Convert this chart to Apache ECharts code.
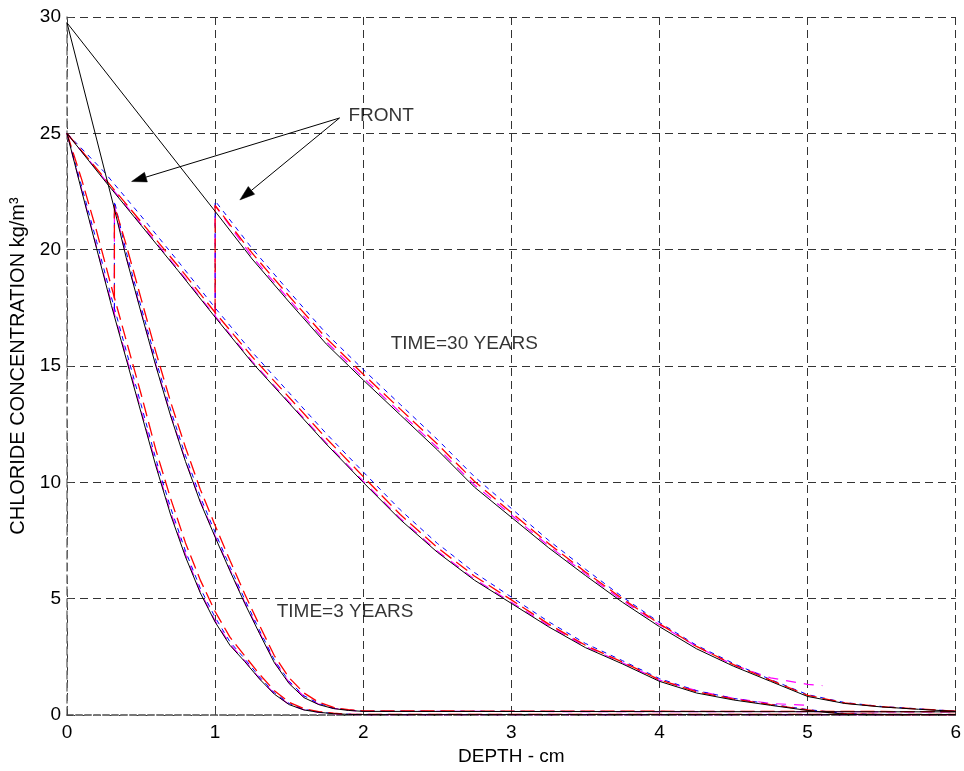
<!DOCTYPE html>
<html><head><meta charset="utf-8">
<script src="https://cdn.jsdelivr.net/npm/echarts@6/dist/echarts.min.js"></script>
<style>html,body{margin:0;padding:0;background:#fff;overflow:hidden}#c{width:964px;height:771px}</style>
</head><body><div id="c"></div>
<script>
// ---------- axis ticks ----------
const xTicks = [0, 1, 2, 3, 4, 5, 6];
const yTicks = [0, 5, 10, 15, 20, 25, 30];

// ---------- TIME = 3 YEARS ----------
// curve without front (starts at 25)
const xA     = [0, 0.1, 0.2, 0.3, 0.4, 0.5, 0.6, 0.7, 0.8, 0.9, 1.0, 1.1, 1.2, 1.3, 1.4, 1.5, 1.6, 1.7, 1.8, 1.9, 2.0, 6.0];
const blackA = [25, 22.5, 20.05, 17.6, 15.3, 13.0, 10.7, 8.6, 6.8, 5.25, 4.0, 3.0, 2.3, 1.55, 0.9, 0.45, 0.22, 0.12, 0.06, 0.03, 0.02, 0.02];
const redA   = [25, 23.0, 20.8, 18.4, 16.1, 13.8, 11.4, 9.3, 7.4, 5.8, 4.45, 3.35, 2.55, 1.75, 1.05, 0.55, 0.28, 0.15, 0.08, 0.04, 0.03, 0.03];
const blueA  = [25, 22.7, 20.35, 17.95, 15.65, 13.35, 11.0, 8.9, 7.05, 5.45, 4.2, 3.15, 2.42, 1.64, 0.96, 0.5, 0.25, 0.13, 0.07, 0.04, 0.03, 0.03];
const magA   = [25, 22.55, 20.1, 17.7, 15.4, 13.1, 10.8, 8.7, 6.9, 5.3, 4.05, 3.05, 2.33, 1.58, 0.92, 0.46, 0.23, 0.12, 0.06, 0.03, 0.02, 0.02];
// black curve with front (starts at 30)
const xBk    = [0, 0.32, 0.4, 0.5, 0.6, 0.7, 0.8, 0.9, 1.0, 1.1, 1.2, 1.3, 1.4, 1.5, 1.6, 1.7, 1.8, 1.9, 2.0, 6.0];
const blackB = [29.75, 21.75, 19.65, 17.3, 15.0, 12.85, 10.9, 9.15, 7.65, 6.2, 4.8, 3.5, 2.25, 1.35, 0.75, 0.45, 0.28, 0.2, 0.16, 0.14];
// numerical curves with front jump at x = 0.32
const xB     = [0.32, 0.32, 0.4, 0.5, 0.6, 0.7, 0.8, 0.9, 1.0, 1.1, 1.2, 1.3, 1.4, 1.5, 1.6, 1.7, 1.8, 1.9, 2.0, 6.0];
const redB   = [17.9, 21.9, 20.2, 17.9, 15.6, 13.45, 11.5, 9.7, 8.15, 6.65, 5.2, 3.85, 2.55, 1.6, 0.95, 0.55, 0.33, 0.23, 0.18, 0.15];
const blueB  = [17.5, 22.1, 19.9, 17.55, 15.25, 13.1, 11.15, 9.38, 7.85, 6.38, 4.97, 3.64, 2.37, 1.45, 0.83, 0.5, 0.3, 0.22, 0.17, 0.15];
const magB   = [17.25, 21.9, 19.7, 17.35, 15.05, 12.9, 10.95, 9.2, 7.7, 6.25, 4.85, 3.55, 2.3, 1.4, 0.8, 0.47, 0.29, 0.21, 0.16, 0.14];

// ---------- TIME = 30 YEARS ----------
const xC     = [0, 0.25, 0.5, 0.75, 1.0, 1.25, 1.5, 1.75, 2.0, 2.25, 2.5, 2.75, 3.0, 3.25, 3.5, 3.75, 4.0, 4.25, 4.5, 4.75, 5.0, 5.25, 5.5, 6.0];
const blackC = [25, 23.0, 21.05, 19.1, 17.1, 15.15, 13.4, 11.65, 10.0, 8.4, 7.0, 5.8, 4.8, 3.8, 2.9, 2.2, 1.45, 0.95, 0.65, 0.42, 0.2, 0.04, 0.01, 0.01];
const redC   = [25, 23.1, 21.2, 19.3, 17.3, 15.4, 13.65, 11.9, 10.25, 8.62, 7.2, 5.98, 4.95, 3.92, 3.0, 2.28, 1.52, 1.0, 0.69, 0.45, 0.22, 0.06, 0.02, 0.02];
const blueC  = [25, 23.35, 21.45, 19.5, 17.5, 15.6, 13.85, 12.1, 10.45, 8.82, 7.38, 6.13, 5.07, 4.02, 3.08, 2.34, 1.57, 1.05, 0.72, 0.47, 0.24, 0.07, 0.03, 0.02];
const xCm    = [0, 0.25, 0.5, 0.75, 1.0, 1.25, 1.5, 1.75, 2.0, 2.25, 2.5, 2.75, 3.0, 3.25, 3.5, 3.75, 4.0, 4.25, 4.5, 4.75, 5.0];
const magC   = [25, 23.05, 21.1, 19.15, 17.15, 15.2, 13.45, 11.7, 10.05, 8.45, 7.05, 5.85, 4.85, 3.85, 2.95, 2.25, 1.5, 1.05, 0.72, 0.5, 0.42];
// black curve with front (starts at 30)
const xDk    = [0, 1.0, 1.25, 1.5, 1.75, 2.0, 2.25, 2.5, 2.75, 3.0, 3.25, 3.5, 3.75, 4.0, 4.25, 4.5, 4.75, 5.0, 5.25, 5.5, 5.75, 6.0];
const blackD = [29.75, 21.65, 19.6, 17.75, 15.95, 14.4, 12.9, 11.4, 9.8, 8.5, 7.2, 6.0, 4.85, 3.8, 2.85, 2.1, 1.45, 0.8, 0.5, 0.35, 0.25, 0.16];
// numerical curves with front jump at x = 1.0
const xD     = [1.0, 1.0, 1.25, 1.5, 1.75, 2.0, 2.25, 2.5, 2.75, 3.0, 3.25, 3.5, 3.75, 4.0, 4.25, 4.5, 4.75, 5.0, 5.25, 5.5, 5.75, 6.0];
const redD   = [17.3, 21.9, 19.85, 18.0, 16.2, 14.65, 13.15, 11.65, 10.05, 8.7, 7.38, 6.15, 5.0, 3.92, 2.95, 2.17, 1.5, 0.85, 0.52, 0.36, 0.26, 0.17];
const blueD  = [17.5, 22.1, 20.05, 18.2, 16.4, 14.85, 13.35, 11.85, 10.25, 8.88, 7.52, 6.27, 5.08, 3.98, 3.0, 2.22, 1.53, 0.88, 0.54, 0.37, 0.27, 0.17];
const xDm    = [1.0, 1.0, 1.25, 1.5, 1.75, 2.0, 2.25, 2.5, 2.75, 3.0, 3.25, 3.5, 3.75, 4.0, 4.25, 4.5, 4.75, 5.0, 5.1];
const magD   = [17.15, 21.9, 19.7, 17.85, 16.05, 14.5, 13.0, 11.5, 9.9, 8.6, 7.28, 6.08, 4.93, 3.88, 2.95, 2.15, 1.6, 1.32, 1.27];

// ---------- annotations (data coordinates) ----------
const arrowFrom = [1.84, 25.66];
const arrowTips = [[0.436, 22.93], [1.167, 22.14]];
const textLabels = [
  { text: 'FRONT', at: [1.90, 25.74] },
  { text: 'TIME=30 YEARS', at: [2.185, 15.94] },
  { text: 'TIME=3 YEARS', at: [1.416, 4.46] }
];

const FONT = "'Liberation Sans', Arial, sans-serif";
const zip = (xs, ys) => xs.map((x, i) => [x, ys[i]]);

function lineSeries(name, xs, ys, color, width, type, z) {
  return {
    name, type: 'line', data: zip(xs, ys), showSymbol: false, symbol: 'none',
    smooth: false, silent: true, z: z,
    lineStyle: { color, width, type }
  };
}

const RED = '#ff0000', BLUE = '#0000ff', MAG = '#ff00ff', BLK = '#000000';
const series = [
  lineSeries('magA', xA, magA, MAG, 1.2, [10, 8], 2),
  lineSeries('magB', xB, magB, MAG, 1.2, [10, 8], 2),
  lineSeries('magC', xCm, magC, MAG, 1.2, [10, 8], 2),
  lineSeries('magD', xDm, magD, MAG, 1.2, [10, 8], 2),
  lineSeries('blueA', xA, blueA, BLUE, 1, [5, 5], 3),
  lineSeries('blueB', xB, blueB, BLUE, 1, [5, 5], 3),
  lineSeries('blueC', xC, blueC, BLUE, 1, [5, 5], 3),
  lineSeries('blueD', xD, blueD, BLUE, 1, [5, 5], 3),
  lineSeries('redA', xA, redA, RED, 1.3, [14, 6], 4),
  lineSeries('redB', xB, redB, RED, 1.3, [14, 6], 4),
  lineSeries('redC', xC, redC, RED, 1.3, [14, 6], 4),
  lineSeries('redD', xD, redD, RED, 1.3, [14, 6], 4),
  lineSeries('blackA', xA, blackA, BLK, 1, 'solid', 5),
  lineSeries('blackB', xBk, blackB, BLK, 1, 'solid', 5),
  lineSeries('blackC', xC, blackC, BLK, 1, 'solid', 5),
  lineSeries('blackD', xDk, blackD, BLK, 1, 'solid', 5),
  {
    name: 'arrows', type: 'custom', silent: true, z: 6,
    dimensions: ['x0', 'y0', 'x1', 'y1'],
    encode: { x: [0, 2], y: [1, 3] },
    data: arrowTips.map(t => [arrowFrom[0], arrowFrom[1], t[0], t[1]]),
    renderItem: function (params, api) {
      const p0 = api.coord([api.value(0), api.value(1)]);
      const p1 = api.coord([api.value(2), api.value(3)]);
      const dx = p1[0] - p0[0], dy = p1[1] - p0[1];
      const len = Math.sqrt(dx * dx + dy * dy);
      const ux = dx / len, uy = dy / len;
      const hl = 15, hw = 5;
      const bx = p1[0] - ux * hl, by = p1[1] - uy * hl;
      return {
        type: 'group',
        children: [
          { type: 'line', shape: { x1: p0[0], y1: p0[1], x2: bx, y2: by },
            style: { stroke: '#000', lineWidth: 1 } },
          { type: 'polygon', shape: { points: [
              [p1[0], p1[1]],
              [bx - uy * hw, by + ux * hw],
              [bx + uy * hw, by - ux * hw]] },
            style: { fill: '#000', stroke: '#000', lineWidth: 0.5 } }
        ]
      };
    }
  }
];
textLabels.forEach(l => series.push({
  type: 'scatter', data: [l.at], symbolSize: 0, silent: true, z: 7,
  label: {
    show: true, position: 'right', distance: 0, formatter: l.text,
    color: '#000', fontSize: 19, fontFamily: FONT, verticalAlign: 'middle'
  }
}));

const chart = echarts.init(document.getElementById('c'), null, { renderer: 'canvas' });
chart.setOption({
  animation: false,
  backgroundColor: '#ffffff',
  grid: { left: 67, right: 8, top: 17, bottom: 50, containLabel: false },
  xAxis: {
    type: 'value', min: xTicks[0], max: xTicks[xTicks.length - 1], interval: 1,
    name: 'DEPTH - cm', nameLocation: 'middle', nameGap: 29,
    nameTextStyle: { color: '#000', fontSize: 19, fontFamily: FONT },
    axisLine: { show: true, onZero: false, lineStyle: { color: '#777', width: 2, type: [6, 3] } },
    axisTick: { show: true, inside: true, length: 6, lineStyle: { color: '#444' } },
    axisLabel: { color: '#000', fontSize: 19, fontFamily: FONT, margin: 8 },
    splitLine: { show: true, lineStyle: { color: '#333', width: 1, type: [8, 5] } }
  },
  yAxis: {
    type: 'value', min: yTicks[0], max: yTicks[yTicks.length - 1], interval: 5,
    name: 'CHLORIDE CONCENTRATION kg/m³', nameLocation: 'middle', nameGap: 36,
    nameTextStyle: { color: '#000', fontSize: 20, fontFamily: FONT },
    axisLine: { show: true, onZero: false, lineStyle: { color: '#777', width: 1.5, type: [8, 4] } },
    axisTick: { show: true, inside: true, length: 6, lineStyle: { color: '#444' } },
    axisLabel: { color: '#000', fontSize: 19, fontFamily: FONT, margin: 6 },
    splitLine: { show: true, lineStyle: { color: '#333', width: 1, type: [8, 5] } }
  },
  series
});
</script>
</body></html>
